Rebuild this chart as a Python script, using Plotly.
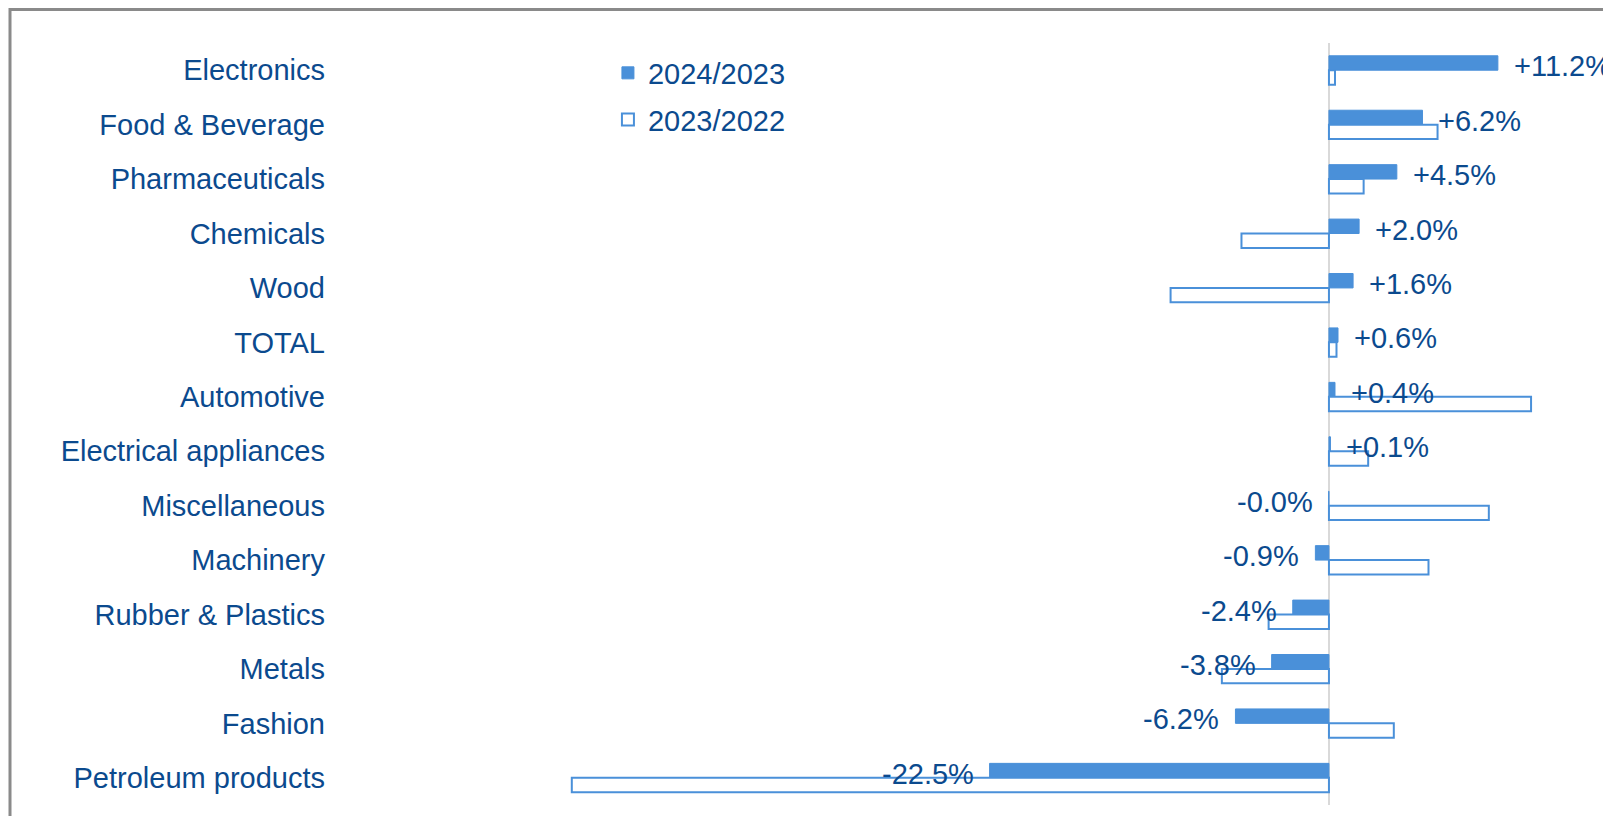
import plotly.graph_objects as go

categories = ["Electronics", "Food & Beverage", "Pharmaceuticals", "Chemicals", "Wood", "TOTAL",
              "Automotive", "Electrical appliances", "Miscellaneous", "Machinery",
              "Rubber & Plastics", "Metals", "Fashion", "Petroleum products"]
growth_2024_2023 = [11.2, 6.2, 4.5, 2.0, 1.6, 0.6, 0.4, 0.1, -0.02, -0.9, -2.4, -3.8, -6.2, -22.5]
growth_2023_2022 = [0.4, 7.2, 2.3, -5.8, -10.5, 0.5, 13.4, 2.6, 10.6, 6.6, -4.0, -7.1, 4.3, -50.2]
series_names = ["2024/2023", "2023/2022"]

BLUE = "#4a90d9"
TEXT = "#0b4a8e"
FONT = "Liberation Sans, Arial, sans-serif"

fig = go.Figure()
fig.add_trace(go.Bar(
    y=categories, x=growth_2024_2023, orientation="h", name=series_names[0],
    marker=dict(color=BLUE, line=dict(color=BLUE, width=1)),
    legendgroup="a", hoverinfo="skip",
))
fig.add_trace(go.Bar(
    y=categories, x=growth_2023_2022, orientation="h", name=series_names[1],
    marker=dict(color="white", line=dict(color=BLUE, width=2)),
    legendgroup="b", hoverinfo="skip",
))

annotations = []
for c, v in zip(categories, growth_2024_2023):
    pos = v >= 0
    annotations.append(dict(
        x=v, y=c, xref="x", yref="y", text=f"{v:+.1f}%", showarrow=False,
        xanchor="left" if pos else "right", xshift=14 if pos else -14, yshift=4,
        font=dict(family=FONT, size=29, color=TEXT),
    ))

# figure is placed at page offset (8, 8); plot area x 327..1603, y 35..797 (figure px)
fig.update_layout(
    width=1603, height=808,
    margin=dict(l=327, r=0, t=35, b=11, pad=0),
    paper_bgcolor="white", plot_bgcolor="white",
    barmode="group", bargap=0.47, bargroupgap=0.0,
    font=dict(family=FONT, size=29, color=TEXT),
    xaxis=dict(range=[-65.9, 18.7], showticklabels=False, showgrid=False,
               zeroline=True, zerolinecolor="#d9d9d9", zerolinewidth=2, fixedrange=True),
    yaxis=dict(autorange="reversed", showgrid=False, zeroline=False, ticks="",
               ticklabelstandoff=9, tickfont=dict(family=FONT, size=29, color=TEXT)),
    legend=dict(x=0.2139, y=0.9941, xanchor="left", yanchor="top", bgcolor="rgba(0,0,0,0)",
                traceorder="grouped", tracegroupgap=6,
                font=dict(family=FONT, size=29, color=TEXT), itemwidth=30),
    annotations=annotations,
    shapes=[dict(type="rect", xref="paper", yref="paper",
                 x0=-0.2547, x1=1.05, y0=-0.05, y1=1.044,
                 line=dict(color="#8a8a8a", width=3), fillcolor="rgba(0,0,0,0)", layer="below")],
)

fig.write_html("out.html")
